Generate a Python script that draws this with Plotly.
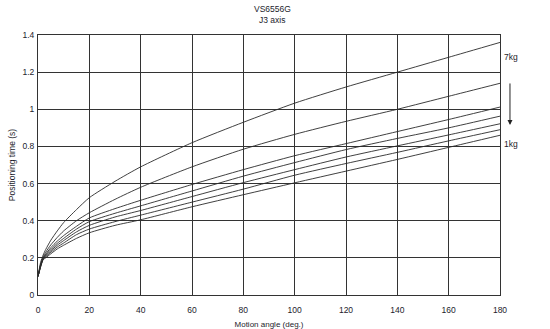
import plotly.graph_objects as go

angle = [0, 1, 2, 3, 5, 7.5, 10, 15, 20, 30, 40, 60, 80, 100, 120, 140, 160, 180]

t_7kg = [0.1, 0.175, 0.215, 0.245, 0.295, 0.345, 0.39, 0.46, 0.524, 0.612, 0.69, 0.82, 0.93, 1.033, 1.12, 1.2, 1.28, 1.36]
t_6kg = [0.1, 0.165, 0.205, 0.23, 0.27, 0.31, 0.345, 0.4, 0.443, 0.515, 0.58, 0.69, 0.785, 0.865, 0.935, 1.0, 1.07, 1.14]
t_5kg = [0.1, 0.16, 0.2, 0.22, 0.255, 0.29, 0.32, 0.37, 0.415, 0.465, 0.51, 0.595, 0.675, 0.75, 0.815, 0.88, 0.945, 1.012]
t_4kg = [0.1, 0.157, 0.197, 0.215, 0.245, 0.278, 0.305, 0.355, 0.395, 0.44, 0.48, 0.56, 0.64, 0.713, 0.783, 0.843, 0.9, 0.963]
t_3kg = [0.1, 0.155, 0.195, 0.21, 0.238, 0.268, 0.293, 0.34, 0.375, 0.42, 0.455, 0.53, 0.605, 0.675, 0.743, 0.803, 0.862, 0.922]
t_2kg = [0.1, 0.152, 0.193, 0.205, 0.23, 0.258, 0.28, 0.325, 0.355, 0.395, 0.43, 0.5, 0.57, 0.645, 0.708, 0.768, 0.83, 0.89]
t_1kg = [0.1, 0.15, 0.19, 0.2, 0.222, 0.248, 0.268, 0.305, 0.335, 0.375, 0.405, 0.475, 0.54, 0.604, 0.667, 0.73, 0.795, 0.86]

series = [("7kg", t_7kg), ("6kg", t_6kg), ("5kg", t_5kg), ("4kg", t_4kg),
          ("3kg", t_3kg), ("2kg", t_2kg), ("1kg", t_1kg)]

x_ticks = [0, 20, 40, 60, 80, 100, 120, 140, 160, 180]
y_ticks = [0, 0.2, 0.4, 0.6, 0.8, 1.0, 1.2, 1.4]
y_tick_text = ["0", "0.2", "0.4", "0.6", "0.8", "1", "1.2", "1.4"]

title_lines = ["VS6556G", "J3 axis"]

FONT = "Liberation Sans, Arial, sans-serif"
TXT = "#1c1c2c"
FS = 8.5

fig = go.Figure()
for name, vals in series:
    fig.add_trace(go.Scatter(
        x=angle, y=vals, mode="lines", name=name,
        line=dict(color="#2a2a2a", width=0.9, shape="spline", smoothing=0.6),
        showlegend=False, hoverinfo="skip"))

fig.update_layout(
    width=550, height=329,
    margin=dict(l=38, r=50, t=35, b=34),
    paper_bgcolor="white", plot_bgcolor="white",
    font=dict(family=FONT, size=FS, color=TXT),
    xaxis=dict(range=[0, 180], tickvals=x_ticks, showgrid=True, gridcolor="#333",
               gridwidth=1, zeroline=False, showline=True, linecolor="#333",
               linewidth=1, mirror=True, ticks="", ticklen=0,
               ticklabelstandoff=7, automargin=False,
               tickfont=dict(size=FS, color=TXT),
               title=dict(text="Motion angle (deg.)", standoff=7,
                          font=dict(size=8, color=TXT))),
    yaxis=dict(range=[0, 1.4], tickvals=y_ticks, ticktext=y_tick_text,
               showgrid=True, gridcolor="#333", gridwidth=1, zeroline=False,
               showline=True, linecolor="#333", linewidth=1, mirror=True,
               ticks="", ticklen=0, automargin=False, ticklabelstandoff=1,
               tickfont=dict(size=FS, color=TXT),
               title=dict(text="Positioning time (s)", standoff=5,
                          font=dict(size=8.5, color=TXT))),
)

fig.add_annotation(text=title_lines[0], xref="paper", yref="paper", x=0.507, y=1.1,
                   showarrow=False, xanchor="center", yanchor="middle",
                   font=dict(size=FS, color=TXT))
fig.add_annotation(text=title_lines[1], xref="paper", yref="paper", x=0.507, y=1.058,
                   showarrow=False, xanchor="center", yanchor="middle",
                   font=dict(size=FS, color=TXT))
fig.add_annotation(text="7kg", xref="paper", yref="paper", x=1.023, y=0.915,
                   showarrow=False, xanchor="center", yanchor="middle",
                   font=dict(size=FS, color=TXT))
fig.add_annotation(text="1kg", xref="paper", yref="paper", x=1.023, y=0.581,
                   showarrow=False, xanchor="center", yanchor="middle",
                   font=dict(size=FS, color=TXT))
fig.add_annotation(text="", xref="paper", yref="paper", x=1.0216, y=0.654,
                   ax=0, ay=-43, axref="pixel", ayref="pixel",
                   showarrow=True, arrowhead=2, arrowsize=1, arrowwidth=1,
                   arrowcolor="#222")

fig.write_html("out.html")
